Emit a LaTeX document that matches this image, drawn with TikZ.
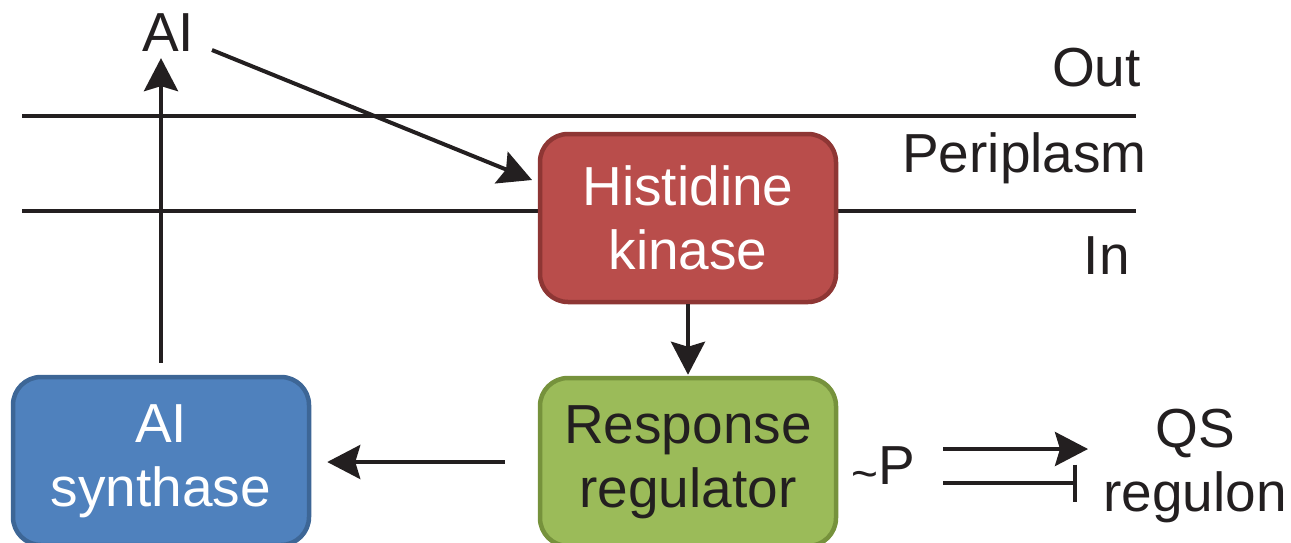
\documentclass[tikz,border=0pt]{standalone}
\usepackage{fontspec}
\setmainfont{Liberation Sans}
\usetikzlibrary{arrows.meta}
\definecolor{hkfill}{HTML}{B94D4B}
\definecolor{hkline}{HTML}{8E3634}
\definecolor{rrfill}{HTML}{9BBB59}
\definecolor{rrline}{HTML}{76923C}
\definecolor{asfill}{HTML}{4F81BD}
\definecolor{asline}{HTML}{3D6696}
\definecolor{ink}{HTML}{231F20}
\tikzset{
  box/.style={draw, line width=4.5pt, rounded corners=28pt, minimum width=296pt,
    minimum height=168pt, align=center, inner sep=0pt,
    font=\fontsize{55}{64}\selectfont},
  lbl/.style={inner sep=0pt, font=\fontsize{55}{64}\selectfont, text=ink, align=center},
  membrane/.style={draw=ink, line width=4pt},
  flow/.style={draw=ink, line width=4pt, -{Stealth[length=33pt,width=34pt,inset=5pt]}},
  block/.style={draw=ink, line width=4pt, -{Bar[width=37pt,line width=4pt]}}
}
\begin{document}
\begin{tikzpicture}[x=1pt,y=-1pt]
\useasboundingbox (0,0) rectangle (1291,542);

% membranes
\coordinate (m1a) at (22,116); \coordinate (m1b) at (1136,116);
\coordinate (m2a) at (22,211); \coordinate (m2b) at (1136,211);
\draw[membrane] (m1a) -- (m1b);
\draw[membrane] (m2a) -- (m2b);

% compartment labels
\node[lbl, anchor=east] (out) at (1141,68) {Out};
\node[lbl, anchor=east] (peri) at (1147,158) {Periplasm};
\node[lbl, anchor=east] (in) at (1130,256) {In};

% signalling components
\node[box, fill=hkfill, draw=hkline, text=white] (hk) at (688,218) {Histidine\\kinase};
\node[box, fill=rrfill, draw=rrline, text=ink] (rr) at (688,462) {Response\\regulator};
\node[box, fill=asfill, draw=asline, text=white] (as) at (161,461) {AI\\synthase};

\node[lbl] (ai) at (168,33) {AI};
\node[lbl] (p) at (883,468) {\raisebox{-0.08em}{\fontsize{46}{46}\selectfont\textasciitilde}P};
\node[lbl] (qs) at (1195,466) {QS\\regulon};

% signal binding and production
\coordinate (aiout) at (212,50);
\coordinate (hkin) at (532,180);
\draw[flow] (aiout) -- (hkin);
\draw[flow, shorten <=12pt, shorten >=6pt] (as.north) -- (as.north |- ai.south);

% phosphorelay and feedback
\draw[flow, shorten >=1pt] (hk.south) -- (rr.north);
\draw[flow, shorten <=33pt, shorten >=16pt] (rr.west |- 0,462) -- (as.east |- 0,462);

% regulon control
\coordinate (acta) at (943,449); \coordinate (actb) at (1088,449);
\coordinate (repa) at (943,483); \coordinate (repb) at (1077,483);
\draw[flow] (acta) -- (actb);
\draw[block] (repa) -- (repb);
\end{tikzpicture}
\end{document}
